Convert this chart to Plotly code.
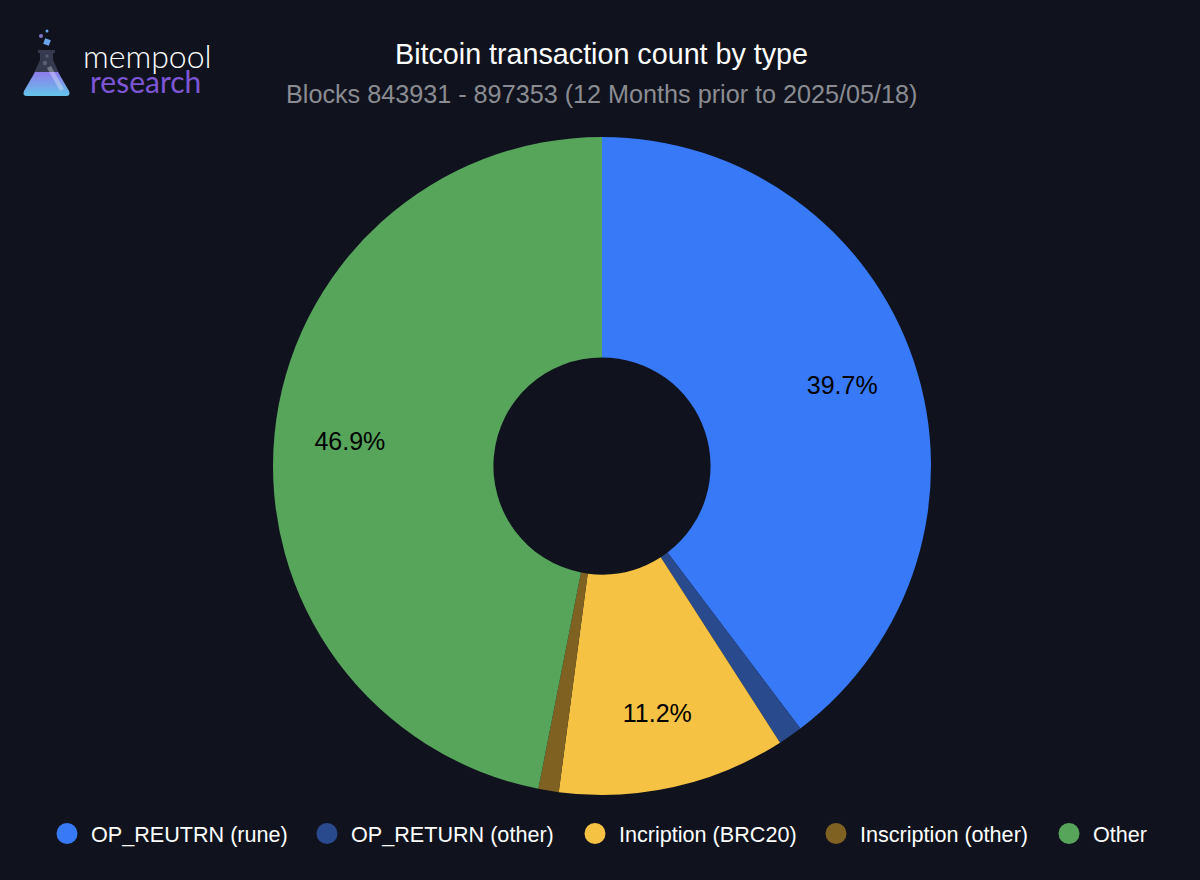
import base64
import plotly.graph_objects as go

categories = ["OP_REUTRN (rune)", "OP_RETURN (other)", "Incription (BRC20)", "Inscription (other)", "Other"]
share_pct = [39.7, 1.2, 11.2, 1.0, 46.9]
colors = ["#3779F6", "#2A4A8E", "#F5C244", "#7F6222", "#57A55B"]
label_visibility = ["inside", "none", "inside", "none", "inside"]
legend_marker_x = [67, 327, 595, 836, 1069]

BG = "#10131E"
W, H = 1200, 880
FONT = "Liberation Sans, Arial, sans-serif"
PIE_DOMAIN = dict(x=[273 / W, 931 / W], y=[1 - 795 / H, 1 - 137 / H])

flask_svg = """<svg xmlns='http://www.w3.org/2000/svg' width='60' height='90' viewBox='0 0 60 90'>
<defs><linearGradient id='g' x1='0' y1='0' x2='0' y2='1'>
<stop offset='0' stop-color='#8F7BEA'/><stop offset='1' stop-color='#63C4EA'/></linearGradient></defs>
<path d='M20 32 L37 32 L37 35 L35 35 L35 42 L41 55 L16 55 L22 42 L22 35 L20 35 Z' fill='#363A4E'/>
<path d='M17 54 L40 54 L51 73 Q53 78 48 78 L9 78 Q4 78 6 73 Z' fill='url(#g)'/>
<path d='M29 50 L33 48 L46 71 L42 73 Z' fill='#FFFFFF' opacity='0.3'/>
<rect x='26' y='21' width='6' height='6' fill='#6AA5EE' transform='rotate(20 29 24)'/>
<circle cx='23' cy='18' r='2' fill='#7F78C8'/><circle cx='29' cy='13' r='1.5' fill='#6AA5EE'/>
<circle cx='29' cy='38' r='1.6' fill='#5A5D75'/><circle cx='27' cy='45' r='2.2' fill='#5A5D75'/>
</svg>"""
flask_uri = "data:image/svg+xml;base64," + base64.b64encode(flask_svg.encode()).decode()

fig = go.Figure()

# Coloured ring
fig.add_trace(go.Pie(
    labels=categories, values=share_pct, sort=False, direction="clockwise", rotation=0,
    hole=0.33, marker=dict(colors=colors, line=dict(width=0)), textinfo="none", showlegend=False,
    domain=PIE_DOMAIN,
))
# Transparent ring of the same outer size: carries the percentage labels further out
fig.add_trace(go.Pie(
    labels=categories, values=share_pct, sort=False, direction="clockwise", rotation=0,
    hole=0.54, marker=dict(colors=["rgba(0,0,0,0)"] * 5, line=dict(width=0)),
    texttemplate="%{percent:.1%}", textposition=label_visibility, insidetextorientation="horizontal",
    textfont=dict(family=FONT, size=25, color="#000000"), showlegend=False, hoverinfo="skip",
    domain=PIE_DOMAIN,
))

legend_layouts = {}
for i, (name, c, mx) in enumerate(zip(categories, colors, legend_marker_x)):
    key = "legend" if i == 0 else f"legend{i + 1}"
    fig.add_trace(go.Scatter(x=[None], y=[None], mode="markers", name=name, legend=key, showlegend=True,
                             marker=dict(color=c, size=16, symbol="circle", line=dict(color=c, width=5))))
    legend_layouts[key] = dict(
        x=(mx - 24) / W, xanchor="left", y=1 - 834 / H, yanchor="middle", orientation="h",
        font=dict(family=FONT, size=21.6, color="#FFFFFF"), itemsizing="trace", itemwidth=38,
        bgcolor="rgba(0,0,0,0)",
    )

fig.update_layout(
    width=W, height=H, margin=dict(l=0, r=0, t=0, b=0),
    paper_bgcolor=BG, plot_bgcolor=BG,
    xaxis=dict(visible=False), yaxis=dict(visible=False),
    font=dict(family=FONT, color="#FFFFFF"),
    annotations=[
        dict(text="Bitcoin transaction count by type", x=601 / W, y=1 - 54 / H, xref="paper", yref="paper",
             showarrow=False, xanchor="center", yanchor="middle", font=dict(family=FONT, size=28.7, color="#FFFFFF")),
        dict(text="Blocks 843931 - 897353 (12 Months prior to 2025/05/18)", x=602 / W, y=1 - 94 / H,
             xref="paper", yref="paper", showarrow=False, xanchor="center", yanchor="middle",
             font=dict(family=FONT, size=25.2, color="#8B8C92")),
        dict(text="mempool", x=81 / W, y=1 - 56 / H, xref="paper", yref="paper", showarrow=False,
             xanchor="left", yanchor="middle", font=dict(family="Lato, sans-serif", size=32, weight=300, color="#FFFFFF")),
        dict(text="research", x=88 / W, y=1 - 81 / H, xref="paper", yref="paper", showarrow=False,
             xanchor="left", yanchor="middle", font=dict(family="Lato, sans-serif", size=30, weight=400, color="#7D56D6")),
    ],
    images=[dict(source=flask_uri, xref="paper", yref="paper", x=18 / W, y=1 - 18 / H,
                 sizex=60 / W, sizey=90 / H, xanchor="left", yanchor="top", layer="above")],
    **legend_layouts,
)

fig.write_html("out.html", config={"displayModeBar": False},
               post_script="document.body.style.margin='0';")
